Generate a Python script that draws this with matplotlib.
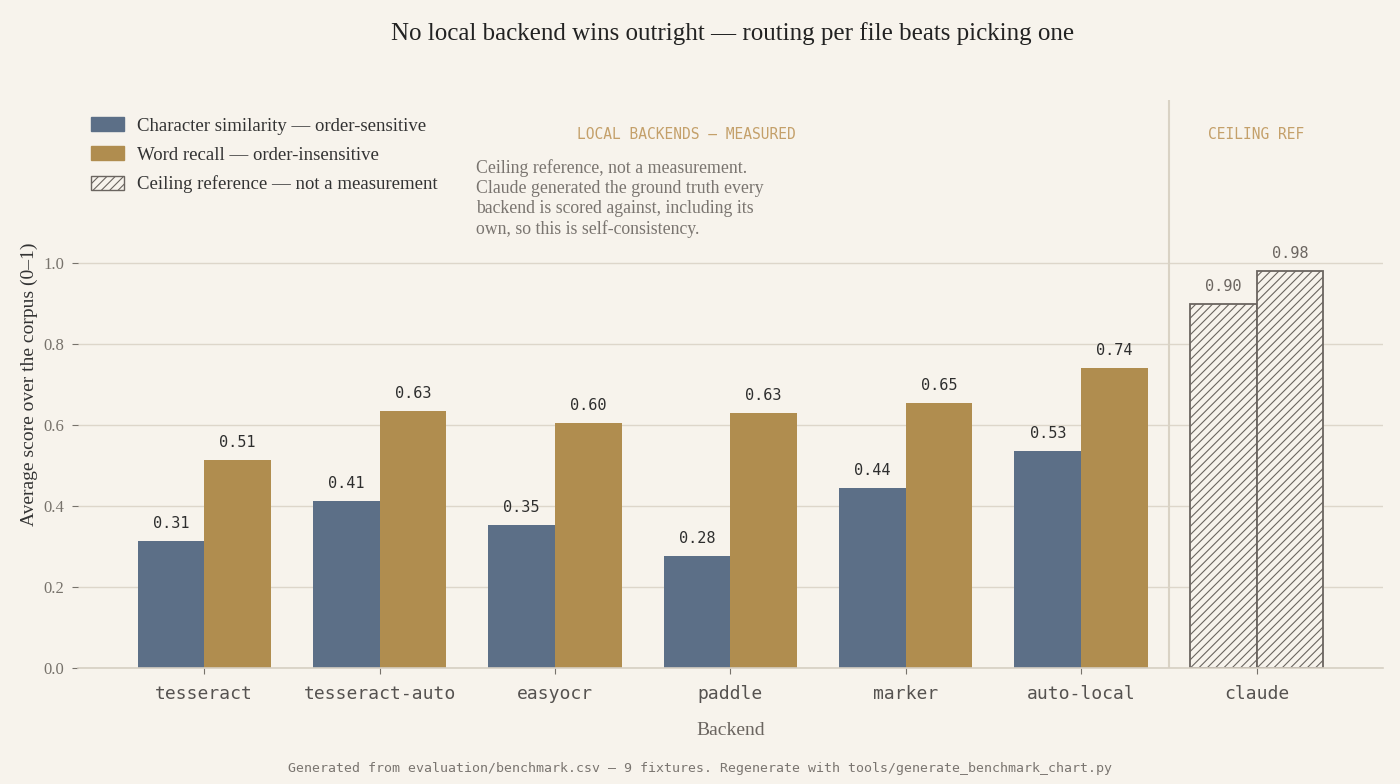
import numpy as np
import matplotlib.pyplot as plt
from matplotlib.patches import Patch

backends = ['tesseract', 'tesseract-auto', 'easyocr', 'paddle', 'marker', 'auto-local', 'claude']
char_sim = [0.313, 0.411, 0.352, 0.276, 0.444, 0.534, 0.897]
word_recall = [0.512, 0.633, 0.603, 0.628, 0.653, 0.739, 0.978]
n_local = 6

BG = '#f7f3ec'
BLUE = '#5c6f87'
GOLD = '#b08d4f'
EDGE = '#6b6560'
GRID = '#ddd6ca'
SERIF = ['Liberation Serif', 'DejaVu Serif']
MONO = ['DejaVu Sans Mono']

plt.rcParams['hatch.linewidth'] = 0.8
fig = plt.figure(figsize=(14, 7.84), dpi=100, facecolor=BG)
ax = fig.add_axes([0.0557, 0.148, 0.932, 0.724], facecolor=BG)

x = np.arange(len(backends))
w = 0.38
ax.bar(x[:n_local] - w/2, char_sim[:n_local], w, color=BLUE)
ax.bar(x[:n_local] + w/2, word_recall[:n_local], w, color=GOLD)
ax.bar(x[n_local:] - w/2, char_sim[n_local:], w, facecolor=BG, edgecolor=EDGE,
       hatch='////', linewidth=1.3)
ax.bar(x[n_local:] + w/2, word_recall[n_local:], w, facecolor=BG, edgecolor=EDGE,
       hatch='////', linewidth=1.3)

for i in range(len(backends)):
    col = '#2e2e2e' if i < n_local else '#6b6560'
    ax.text(x[i] - w/2, char_sim[i] + 0.025, f'{char_sim[i]:.2f}', ha='center', va='bottom',
            family=MONO, fontsize=11, color=col)
    ax.text(x[i] + w/2, word_recall[i] + 0.025, f'{word_recall[i]:.2f}', ha='center', va='bottom',
            family=MONO, fontsize=11, color=col)

ax.set_xlim(-0.72, 6.72)
ax.set_ylim(0, 1.4)
ax.set_yticks([0, 0.2, 0.4, 0.6, 0.8, 1.0])
ax.set_yticklabels(['0.0', '0.2', '0.4', '0.6', '0.8', '1.0'], family=SERIF, fontsize=12, color='#77726b')
ax.set_xticks(x)
ax.set_xticklabels(backends, family=MONO, fontsize=13, color='#555250')
ax.grid(axis='y', color=GRID, linewidth=1)
ax.set_axisbelow(True)
for s in ['top', 'right', 'left']:
    ax.spines[s].set_visible(False)
ax.spines['bottom'].set_color('#d6cfc3')
ax.spines['bottom'].set_linewidth(1.2)
ax.tick_params(axis='y', length=4, color='#77726b', pad=6)
ax.tick_params(axis='x', length=4, color='#77726b', pad=8)

ax.axvline(5.5, color='#d9d2c4', linewidth=1.5)

ax.set_xlabel('Backend', family=SERIF, fontsize=14, color='#6b6560', labelpad=14)
ax.set_ylabel('Average score over the corpus (0–1)', family=SERIF, fontsize=14, color='#333333', labelpad=4)

fig.text(0.523, 0.957, 'No local backend wins outright — routing per file beats picking one',
         ha='center', va='center', family=SERIF, fontsize=18, color='#222222')

ax.text(2.75, 1.315, 'LOCAL BACKENDS — MEASURED', ha='center', va='center',
        family=MONO, fontsize=10.5, color='#c4a06a')
ax.text(6.0, 1.315, 'CEILING REF', ha='center', va='center',
        family=MONO, fontsize=10.5, color='#c4a06a')
ax.text(1.55, 1.255, 'Ceiling reference, not a measurement.\nClaude generated the ground truth every\n'
        'backend is scored against, including its\nown, so this is self-consistency.',
        ha='left', va='top', family=SERIF, fontsize=12.8, color='#7a7570', linespacing=1.22)

handles = [Patch(facecolor=BLUE, edgecolor=BLUE),
           Patch(facecolor=GOLD, edgecolor=GOLD),
           Patch(facecolor=BG, edgecolor=EDGE, hatch='////')]
labels = ['Character similarity — order-sensitive', 'Word recall — order-insensitive',
          'Ceiling reference — not a measurement']
ax.legend(handles, labels, loc='upper left', bbox_to_anchor=(0.0, 0.993), frameon=False,
          prop={'family': SERIF, 'size': 13.5}, labelcolor='#333333',
          handlelength=1.75, handleheight=0.75, handletextpad=0.7, labelspacing=0.62,
          borderaxespad=0.3)

fig.text(0.5, 0.02, 'Generated from evaluation/benchmark.csv — 9 fixtures. Regenerate with tools/generate_benchmark_chart.py',
         ha='center', va='center', family=MONO, fontsize=9.5, color='#7a7570')

fig.savefig('out.png', dpi=100, facecolor=BG)
